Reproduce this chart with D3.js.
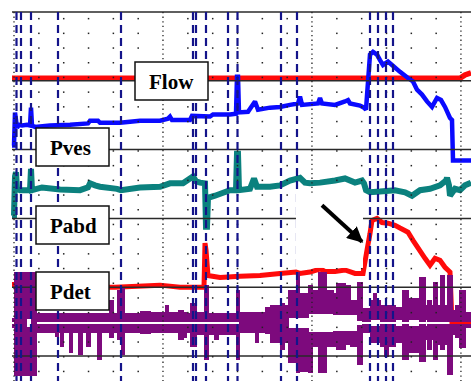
<!DOCTYPE html>
<html>
<head>
<meta charset="utf-8">
<script src="https://cdn.jsdelivr.net/npm/d3@7"></script>
<style>
  html, body { margin: 0; padding: 0; background: #fff; }
  svg { display: block; }
</style>
</head>
<body>
<svg id="trace" width="471" height="381"></svg>
<script>
// ---- Urodynamic pressure-flow study: channel data ----
// time axis in samples; pressures in cmH2O; flow in ml/s; EMG envelope in µV

const flowT = [0, 448, 453, 459];
const flowV = [0, 0, 2.5, 4];

const pvesT = [0, 2, 3, 5, 7, 10, 15, 18, 19, 20, 23, 38, 58, 76, 78, 86, 88, 108, 128, 148, 156, 158, 160,
  178, 180, 198, 201, 218, 224, 225, 226, 227, 236, 243, 246, 258, 268, 278, 286, 288, 290, 306, 308, 310,
  323, 333, 336, 338, 348, 352, 354, 358, 361, 365, 368, 371, 376, 380, 388, 396, 401, 405, 410, 415,
  420, 425, 429, 433, 438, 440, 441, 459];
const pvesV = [6, 6, 54, 32, 36, 35, 36, 35, 61, 35, 33, 35, 36, 38, 42, 42, 39, 39, 42, 42, 45, 48, 43,
  43, 49, 48, 51, 51, 52, 106, 106, 54, 55, 70, 58, 61, 62, 65, 67, 77, 65, 67, 75, 67,
  65, 70, 72, 67, 64, 61, 58, 138, 142, 138, 130, 123, 128, 123, 113, 104, 99, 87, 80, 70,
  62, 75, 72, 62, 46, 43, -16, -16];

const pabdT = [0, 2, 3, 4, 5, 8, 18, 19, 20, 30, 48, 68, 76, 78, 83, 88, 105, 109, 128, 148, 158, 171,
  178, 181, 184, 188, 193, 194, 195, 196, 203, 218, 224, 225, 226, 227, 238, 242, 245, 258, 268, 278,
  288, 293, 298, 308, 323, 333, 343, 350, 352, 354, 358, 368, 383, 393, 400, 408, 418, 428, 434, 435,
  437, 438, 443, 448, 453, 459];
const pabdV = [4, 4, 61, 67, 43, 41, 41, 72, 41, 45, 42, 41, 45, 51, 48, 46, 43, 41, 45, 46, 51, 51,
  58, 61, 54, 52, 51, -12, -12, 30, 33, 41, 41, 94, 94, 41, 43, 58, 46, 46, 48, 55,
  59, 52, 51, 52, 55, 58, 52, 55, 51, 41, 38, 39, 41, 38, 33, 41, 43, 48, 55, 59,
  48, 33, 43, 41, 48, 52];

const pdetT = [0, 24, 48, 88, 103, 148, 168, 192, 193, 194, 196, 208, 228, 248, 268, 284, 288, 298, 307,
  308, 309, 313, 323, 333, 343, 351, 355, 358, 360, 365, 370, 376, 383, 388, 396, 401, 406, 413, 418,
  423, 428, 433, 438, 440, 459];
const pdetV = [4, 4, 1, 0, 0, 3, 0, 0, 64, 54, 17, 14, 16, 17, 20, 22, 20, 22, 26,
  35, 26, 23, 23, 25, 20, 20, 54, 78, 97, 100, 94, 93, 90, 86, 80, 68, 57, 42, 32,
  42, 39, 29, 22, -52, -52];

// EMG envelope: segment start, upward peak, downward peak, half-width of the baseline gap
const emgT    = [0, 2, 14, 19, 24, 43, 46, 48, 51, 57, 60, 66, 70, 74, 78, 85, 89, 97, 101, 105, 109, 112,
  128, 138, 153, 156, 166, 171, 174, 178, 184, 192, 196, 202, 206, 224, 227, 243, 246, 253, 258, 268,
  272, 276, 284, 287, 296, 300, 306, 314, 321, 324, 333, 338, 345, 350, 358, 361, 364, 368, 372, 376,
  383, 390, 396, 407, 413, 415, 419, 421, 425, 428, 432, 435, 440, 443, 447, 453];
const emgUp   = [5, 51, 51, 51, 10, 10, 10, 10, 10, 10, 10, 10, 10, 10, 10, 10, 10, 23, 10, 33, 36, 10,
  12, 11, 18, 11, 13, 11, 10, 20, 11, 38, 10, 10, 10, 33, 11, 11, 11, 16, 18, 20,
  18, 33, 51, 30, 38, 33, 51, 33, 30, 40, 38, 23, 41, 15, 23, 30, 23, 18, 18, 18,
  16, 33, 25, 46, 18, 23, 18, 41, 18, 48, 18, 48, 13, 18, 33, 11];
const emgDown = [5, 53, 53, 53, 10, 14, 10, 24, 10, 30, 10, 32, 10, 24, 10, 37, 10, 15, 10, 17, 32, 10,
  11, 10, 10, 10, 17, 15, 10, 24, 12, 37, 12, 17, 12, 37, 10, 20, 10, 11, 20, 27,
  20, 40, 50, 49, 50, 24, 50, 24, 24, 27, 22, 24, 42, 10, 20, 20, 20, 24, 34, 24,
  20, 37, 30, 39, 17, 27, 17, 37, 22, 27, 22, 52, 12, 15, 25, 5];
const emgGap  = [1, 0, 4, 0, 1, 1, 1, 1, 1, 1, 1, 1, 1, 1, 1, 1, 1, 1, 1, 1, 1, 1,
  1, 1, 1, 1, 1, 1, 1, 1, 1, 1, 1, 1, 1, 1, 0, 0, 0, 0, 0, 0,
  0, 5, 5, 5, 9, 9, 9, 9, 8, 8, 8, 8, 2, 1, 3, 3, 3, 1, 1, 1,
  3, 1, 3, 1, 3, 1, 1, 1, 1, 1, 1, 1, 1, 1, 1, 1];
const emgEnd = 459;

// event markers (samples)
const markerT = [4.5, 9, 19, 46, 109, 181, 184, 194, 216, 225.5, 269, 285, 358, 366, 374, 381];

const channelLabels = ["Flow", "Pves", "Pabd", "Pdet"];

// ---- scales ----
const W = 471, H = 381;
const x = d3.scaleLinear().domain([0, 460]).range([12, 472]);
const rule = d3.scaleLinear().domain([0, 5]).range([12, 356]);       // panel rule lines
const yFlow = d3.scaleLinear().domain([0, 50]).range([rule(1) - 2.5, rule(1) - 71.3]);
const yPves = d3.scaleLinear().domain([0, 100]).range([rule(2), rule(1)]);
const yPabd = d3.scaleLinear().domain([0, 100]).range([rule(3), rule(2)]);
const yPdet = d3.scaleLinear().domain([0, 100]).range([rule(4), rule(3)]);
const emgMid = rule(4) + 35.8;
const yEmg = d3.scaleLinear().domain([-60, 60]).range([emgMid + 60, emgMid - 60]);

const svg = d3.select("#trace");
svg.append("rect").attr("width", W).attr("height", H).attr("fill", "#fff");

function trace(T, V, ys, color, width) {
  const line = d3.line().x((d, i) => x(T[i])).y(d => ys(d));
  svg.append("path")
    .attr("d", line(V))
    .attr("fill", "none")
    .attr("stroke", color)
    .attr("stroke-width", width)
    .attr("stroke-linejoin", "miter")
    .attr("stroke-miterlimit", 2);
}

// ---- channel traces ----
trace(flowT, flowV, yFlow, "#ff0a0a", 5.5);
trace(pvesT, pvesV, yPves, "#0a0aff", 4.5);
trace(pabdT, pabdV, yPabd, "#0b817e", 6);
trace(pdetT, pdetV, yPdet, "#ff0a0a", 5);

// EMG envelope drawn as bars above and below the baseline gap
const emg = svg.append("g").attr("fill", "#7d0a7d").attr("shape-rendering", "crispEdges");
emgT.forEach((t, i) => {
  const x0 = x(t), x1 = x(i + 1 < emgT.length ? emgT[i + 1] : emgEnd) + 0.5;
  const g = emgGap[i];
  emg.append("rect").attr("x", x0).attr("width", x1 - x0)
    .attr("y", yEmg(emgUp[i])).attr("height", yEmg(g) - yEmg(emgUp[i]));
  emg.append("rect").attr("x", x0).attr("width", x1 - x0)
    .attr("y", yEmg(-g)).attr("height", yEmg(-emgDown[i]) - yEmg(-g));
});

// ---- panel rules ----
svg.append("g").selectAll("line").data(d3.range(0, 6)).join("line")
  .attr("x1", 12).attr("x2", W)
  .attr("y1", d => rule(d)).attr("y2", d => rule(d))
  .attr("stroke", "#2a2a2a").attr("stroke-width", 1.5);

// ---- dotted time grid ----
const gridCols = d3.range(0, 19).map(k => 14 + k * 24.83);
const gridRows = d3.range(18.6, H, 14.7);
const grid = svg.append("g").attr("fill", "#222");
gridCols.forEach((gx, k) => {
  if (k % 6 === 0) {
    svg.append("line").attr("x1", gx).attr("x2", gx).attr("y1", rule(0)).attr("y2", H)
      .attr("stroke", "#222").attr("stroke-width", 1.3).attr("stroke-dasharray", "1.3,3.3");
  } else {
    gridRows.forEach(gy => {
      grid.append("rect").attr("x", gx - 0.7).attr("y", gy - 0.7).attr("width", 1.5).attr("height", 1.5);
    });
  }
});

// ---- event markers ----
svg.append("g").selectAll("line").data(markerT).join("line")
  .attr("x1", d => x(d)).attr("x2", d => x(d))
  .attr("y1", rule(0)).attr("y2", H)
  .attr("stroke", "#14148a").attr("stroke-width", 2.2).attr("stroke-dasharray", "8,5");

// ---- annotation: arrow to the detrusor rise ----
svg.append("rect")
  .attr("x", x(284)).attr("y", yPdet(137))
  .attr("width", x(351) - x(284)).attr("height", yPdet(28) - yPdet(137))
  .attr("fill", "#fff");
svg.append("defs").append("marker")
  .attr("id", "head").attr("viewBox", "0 0 10 10").attr("refX", 9).attr("refY", 5)
  .attr("markerWidth", 4).attr("markerHeight", 4).attr("orient", "auto")
  .append("path").attr("d", "M0,0 L10,5 L0,10 Z").attr("fill", "#000");
svg.append("line")
  .attr("x1", x(310)).attr("y1", yPdet(119))
  .attr("x2", x(350)).attr("y2", yPdet(66))
  .attr("stroke", "#000").attr("stroke-width", 4)
  .attr("marker-end", "url(#head)");

// ---- channel labels ----
const boxes = [
  { x: 135, y: 62 }, { x: 36, y: 128 }, { x: 36, y: 206 }, { x: 36, y: 272 }
];
channelLabels.forEach((name, i) => {
  const b = boxes[i];
  svg.append("rect").attr("x", b.x).attr("y", b.y).attr("width", 73).attr("height", 38)
    .attr("fill", "#fff").attr("stroke", "#111").attr("stroke-width", 1.5);
  svg.append("text").attr("x", b.x + 14).attr("y", b.y + 27)
    .attr("font-family", "'Liberation Serif', 'Times New Roman', serif")
    .attr("font-weight", "bold").attr("font-size", 21).attr("fill", "#000")
    .text(name);
});
</script>
</body>
</html>
